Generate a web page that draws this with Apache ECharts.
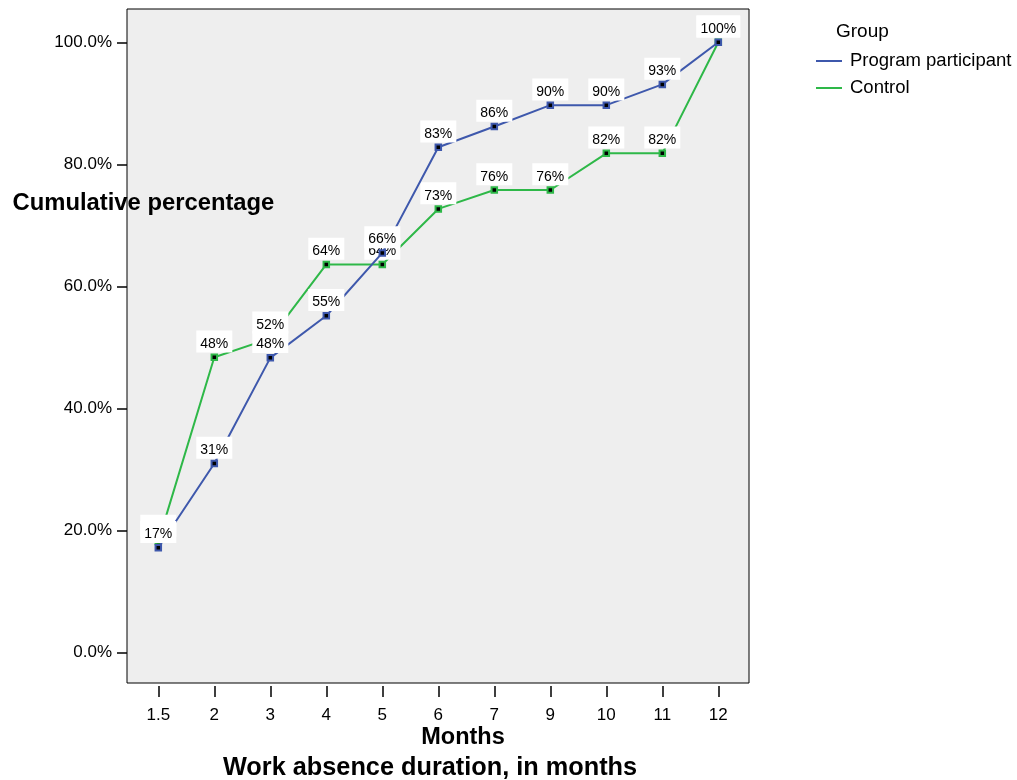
<!DOCTYPE html>
<html>
<head>
<meta charset="utf-8">
<script src="https://cdn.jsdelivr.net/npm/echarts@6/dist/echarts.min.js"></script>
<style>
  html, body { margin: 0; padding: 0; background: #fff; }
  #chart { width: 1017px; height: 780px; }
</style>
</head>
<body>
<div id="chart"></div>
<script>
// ---- data ----
const months = ['1.5', '2', '3', '4', '5', '6', '7', '9', '10', '11', '12'];
const participant = [17.2, 31.0, 48.3, 55.2, 65.5, 82.8, 86.2, 89.7, 89.7, 93.1, 100];
const control = [18.2, 48.4, 51.5, 63.6, 63.6, 72.7, 75.8, 75.8, 81.8, 81.8, 100];
const yTicks = [0, 20, 40, 60, 80, 100];
const seriesNames = ['Program participant', 'Control'];
const legendTitle = 'Group';
const yTitle = 'Cumulative percentage';
const xTitle1 = 'Months';
const xTitle2 = 'Work absence duration, in months';

// ---- styling ----
const FONT = 'Liberation Sans, Arial, Helvetica, sans-serif';
const BLUE = '#3E58AC';
const GREEN = '#2EB848';
const idx = months.map((m, i) => i);

function makeSeries(name, values, color, z) {
  return {
    name: name,
    type: 'line',
    data: values.map((v, i) => [i, v]),
    z: z,
    symbol: 'rect',
    symbolSize: 5.5,
    lineStyle: { color: color, width: 2 },
    itemStyle: { color: '#000', borderColor: color, borderWidth: 2 },
    label: {
      show: true,
      position: 'top',
      distance: 1,
      formatter: p => Math.round(p.value[1]) + '%',
      fontFamily: FONT,
      fontSize: 14,
      lineHeight: 17,
      color: '#000',
      backgroundColor: '#fff',
      padding: [5, 4, 0, 4]
    },
    emphasis: { disabled: true },
    animation: false
  };
}

const chart = echarts.init(document.getElementById('chart'), null, { renderer: 'canvas' });
chart.setOption({
  animation: false,
  backgroundColor: '#fff',
  grid: {
    left: 127, right: 268, top: 9, bottom: 97,
    show: true,
    backgroundColor: '#EEEEEE',
    borderColor: '#000',
    borderWidth: 1
  },
  xAxis: {
    type: 'value',
    position: 'bottom',
    min: -0.559,
    max: 10.548,
    offset: 3,
    axisLine: { show: false, onZero: false },
    splitLine: { show: false },
    axisTick: { show: true, inside: false, customValues: idx, length: 11, lineStyle: { color: '#000', width: 1.5 } },
    axisLabel: {
      customValues: idx,
      formatter: v => months[Math.round(v)],
      margin: 21,
      fontFamily: FONT,
      fontSize: 17,
      color: '#000'
    }
  },
  yAxis: {
    type: 'value',
    position: 'left',
    min: -4.96,
    max: 105.45,
    axisLine: { show: false, onZero: false },
    splitLine: { show: false },
    axisTick: { show: true, inside: false, customValues: yTicks, length: 10, lineStyle: { color: '#000', width: 1.5 } },
    axisLabel: {
      customValues: yTicks,
      formatter: v => v.toFixed(1) + '%',
      margin: 15,
      fontFamily: FONT,
      fontSize: 17,
      color: '#000'
    }
  },
  legend: {
    orient: 'vertical',
    left: 811,
    top: 45,
    itemWidth: 26,
    itemHeight: 2,
    itemGap: 5,
    icon: 'rect',
    selectedMode: false,
    data: [
      { name: seriesNames[0], itemStyle: { color: BLUE, borderWidth: 0 } },
      { name: seriesNames[1], itemStyle: { color: GREEN, borderWidth: 0 } }
    ],
    textStyle: { fontFamily: FONT, fontSize: 18.5, lineHeight: 22, color: '#000', padding: [0, 0, 0, 3] }
  },
  graphic: [
    { type: 'text', z: 100, left: 836, top: 22, style: { text: legendTitle, font: '19px ' + FONT, fill: '#000' } },
    { type: 'text', z: 100, x: 12.5, y: 203.5, style: { text: yTitle, font: 'bold 23.8px ' + FONT, fill: '#000', textAlign: 'left', textVerticalAlign: 'middle' } },
    { type: 'text', z: 100, x: 463, y: 738, style: { text: xTitle1, font: 'bold 23.5px ' + FONT, fill: '#000', textAlign: 'center', textVerticalAlign: 'middle' } },
    { type: 'text', z: 100, x: 430, y: 768, style: { text: xTitle2, font: 'bold 25.3px ' + FONT, fill: '#000', textAlign: 'center', textVerticalAlign: 'middle' } }
  ],
  series: [
    makeSeries(seriesNames[1], control, GREEN, 2),
    makeSeries(seriesNames[0], participant, BLUE, 3)
  ]
});
</script>
</body>
</html>
